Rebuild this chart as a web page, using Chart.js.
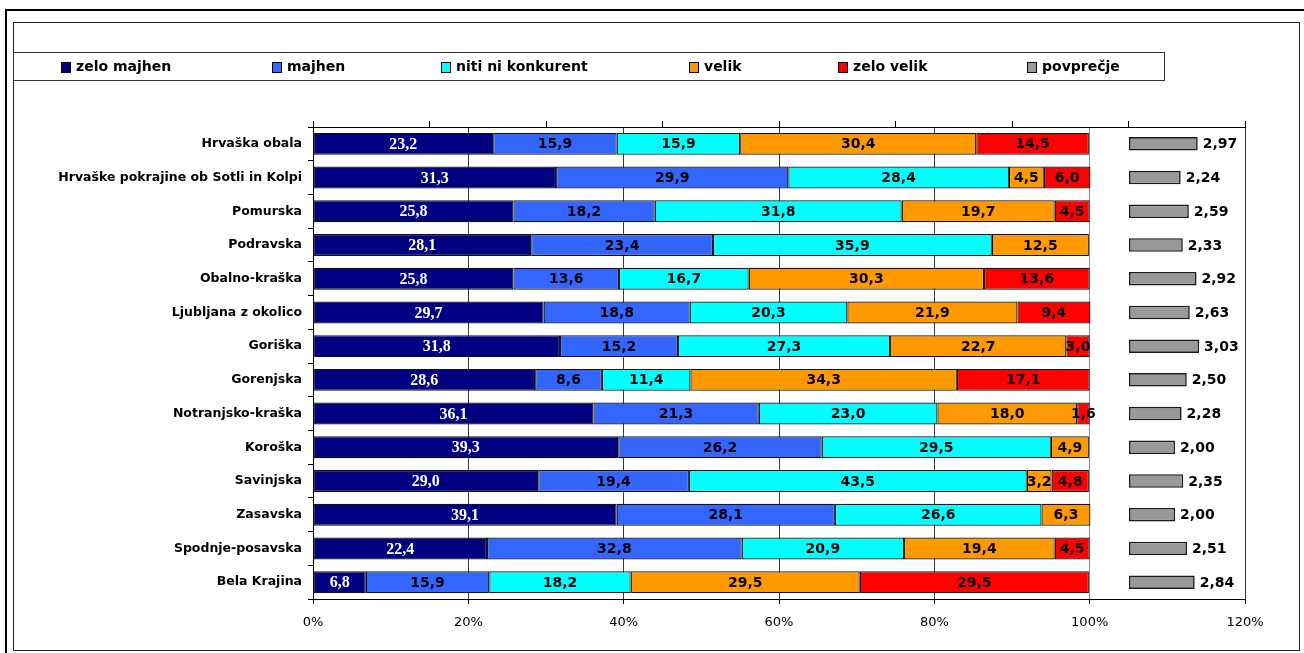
<!DOCTYPE html>
<html>
<head>
<meta charset="utf-8">
<script src="https://cdn.jsdelivr.net/npm/chart.js@4.4.0/dist/chart.umd.min.js"></script>
<style>
  html, body { margin: 0; padding: 0; background: #ffffff; }
  canvas { display: block; }
</style>
</head>
<body>
<canvas id="chart" width="1304" height="653"></canvas>
<script>
// Regions, top to bottom
const regions = [
  'Hrvaška obala', 'Hrvaške pokrajine ob Sotli in Kolpi', 'Pomurska', 'Podravska',
  'Obalno-kraška', 'Ljubljana z okolico', 'Goriška', 'Gorenjska', 'Notranjsko-kraška',
  'Koroška', 'Savinjska', 'Zasavska', 'Spodnje-posavska', 'Bela Krajina'
];

// Share of answers per region (%)
const zeloMajhen = [23.2, 31.3, 25.8, 28.1, 25.8, 29.7, 31.8, 28.6, 36.1, 39.3, 29.0, 39.1, 22.4, 6.8];
const majhen     = [15.9, 29.9, 18.2, 23.4, 13.6, 18.8, 15.2, 8.6, 21.3, 26.2, 19.4, 28.1, 32.8, 15.9];
const nitiNi     = [15.9, 28.4, 31.8, 35.9, 16.7, 20.3, 27.3, 11.4, 23.0, 29.5, 43.5, 26.6, 20.9, 18.2];
const velik      = [30.4, 4.5, 19.7, 12.5, 30.3, 21.9, 22.7, 34.3, 18.0, 4.9, 3.2, 6.3, 19.4, 29.5];
const zeloVelik  = [14.5, 6.0, 4.5, 0, 13.6, 9.4, 3.0, 17.1, 1.6, 0, 4.8, 0, 4.5, 29.5];

// Average grade per region
const povprecje  = [2.97, 2.24, 2.59, 2.33, 2.92, 2.63, 3.03, 2.50, 2.28, 2.00, 2.35, 2.00, 2.51, 2.84];

// Tick values of the percentage axis
const percentTicks = [0, 20, 40, 60, 80, 100, 120];

const BOLD = '"DejaVu Sans", sans-serif';

function fmt(v, digits) {
  return v.toFixed(digits).replace('.', ',');
}

function seg(label, data, color, labelColor, labelFont) {
  return {
    label, data,
    backgroundColor: color,
    borderColor: '#111111',
    borderWidth: 1.2,
    borderSkipped: false,
    barPercentage: 0.65,
    categoryPercentage: 1.0,
    xAxisID: 'x',
    labelColor, labelFont
  };
}

// Frames and legend box behind the chart
const framePlugin = {
  id: 'frames',
  beforeDraw(chart) {
    const ctx = chart.ctx;
    ctx.save();
    ctx.fillStyle = '#ffffff';
    ctx.fillRect(0, 0, chart.width, chart.height);
    // outer heavy frame
    ctx.strokeStyle = '#000000';
    ctx.lineWidth = 2;
    ctx.beginPath();
    ctx.moveTo(6, chart.height + 5);
    ctx.lineTo(6, 10);
    ctx.lineTo(chart.width + 5, 10);
    ctx.stroke();
    // inner frame
    ctx.lineWidth = 1;
    ctx.strokeStyle = '#222222';
    ctx.strokeRect(13.5, 22.5, 1286, 628);
    // legend box
    ctx.strokeStyle = '#333333';
    ctx.strokeRect(13.5, 52.5, 1151, 28);
    ctx.restore();
  },
  afterDraw(chart) {
    const ctx = chart.ctx;
    const xs = [61, 272, 441, 689, 838, 1027];
    ctx.save();
    ctx.font = 'bold 14px ' + BOLD;
    ctx.textBaseline = 'middle';
    ctx.textAlign = 'left';
    chart.data.datasets.forEach((ds, i) => {
      const x = xs[i];
      ctx.fillStyle = ds.backgroundColor;
      ctx.fillRect(x + 0.5, 62.5, 9, 10);
      ctx.strokeStyle = '#000000';
      ctx.lineWidth = 1;
      ctx.strokeRect(x + 0.5, 62.5, 9, 10);
      ctx.fillStyle = '#000000';
      ctx.fillText(ds.label, x + 15, 67.5);
    });
    ctx.restore();
  }
};

// Value labels inside segments and next to the average bars
const valueLabels = {
  id: 'valueLabels',
  afterDatasetsDraw(chart) {
    const ctx = chart.ctx;
    chart.data.datasets.forEach((ds, di) => {
      const meta = chart.getDatasetMeta(di);
      meta.data.forEach((bar, i) => {
        const v = ds.data[i];
        if (v == null || v === 0) return;
        const p = bar.getProps(['x', 'y', 'base'], true);
        ctx.save();
        ctx.textBaseline = 'middle';
        if (ds.isAverage) {
          ctx.font = 'bold 14px ' + BOLD;
          ctx.fillStyle = '#000000';
          ctx.textAlign = 'left';
          ctx.fillText(fmt(v, 2), p.x + 5, p.y + 1);
        } else {
          ctx.font = ds.labelFont;
          ctx.fillStyle = ds.labelColor;
          ctx.textAlign = 'center';
          ctx.fillText(fmt(v, 1), (p.x + p.base) / 2, p.y + 1);
        }
        ctx.restore();
      });
    });
  }
};

const numFont = 'bold 14px ' + BOLD;

new Chart(document.getElementById('chart'), {
  type: 'bar',
  data: {
    labels: regions,
    datasets: [
      seg('zelo majhen', zeloMajhen, '#000080', '#ffffff', 'bold 16px "Liberation Serif", serif'),
      seg('majhen', majhen, '#3366FF', '#000000', numFont),
      seg('niti ni konkurent', nitiNi, '#00FFFF', '#000000', numFont),
      seg('velik', velik, '#FF9900', '#000000', numFont),
      seg('zelo velik', zeloVelik, '#FF0000', '#000000', numFont),
      {
        label: 'povprečje',
        data: povprecje,
        backgroundColor: '#999999',
        borderColor: '#1a1a1a',
        borderWidth: 1.6,
        borderSkipped: false,
        barPercentage: 0.4,
        categoryPercentage: 1.0,
        grouped: false,
        xAxisID: 'x2',
        isAverage: true
      }
    ]
  },
  options: {
    indexAxis: 'y',
    responsive: false,
    animation: false,
    devicePixelRatio: 1,
    layout: { padding: { left: 0, right: 59, top: 0, bottom: 0 } },
    plugins: {
      legend: { display: false },
      tooltip: { enabled: false }
    },
    scales: {
      x: {
        type: 'linear',
        position: 'bottom',
        stacked: true,
        min: 0, max: 120,
        afterBuildTicks: (s) => { s.ticks = percentTicks.map(v => ({ value: v })); },
        afterFit: (s) => { s.height = 54; },
        ticks: {
          callback: (v) => v + '%',
          color: '#000000',
          font: { family: '"DejaVu Sans", sans-serif', size: 13 },
          padding: 11,
          maxRotation: 0
        },
        grid: {
          color: (c) => (c.tick && c.tick.value === 100) ? '#8a8a8a' : '#3a3a3a',
          lineWidth: 1,
          drawTicks: true,
          tickLength: 5,
          tickColor: '#000000'
        },
        border: { display: true, color: '#000000', width: 1 }
      },
      x2: {
        type: 'linear',
        position: 'top',
        stacked: false,
        min: -35, max: 5,
        ticks: { display: false, stepSize: 5 },
        afterFit: (s) => { s.height = 127; },
        grid: {
          drawOnChartArea: false,
          drawTicks: true,
          tickLength: 6,
          color: '#000000'
        },
        border: { display: true, color: '#000000', width: 1 }
      },
      y: {
        type: 'category',
        stacked: true,
        afterFit: (s) => { s.width = 313; },
        ticks: {
          color: '#000000',
          font: { family: BOLD, size: 12.5, weight: 'bold' },
          padding: 6
        },
        grid: {
          drawOnChartArea: false,
          drawTicks: true,
          tickLength: 5,
          color: '#000000',
          offset: true
        },
        border: { display: true, color: '#000000', width: 1 }
      }
    }
  },
  plugins: [framePlugin, valueLabels]
});
</script>
</body>
</html>
